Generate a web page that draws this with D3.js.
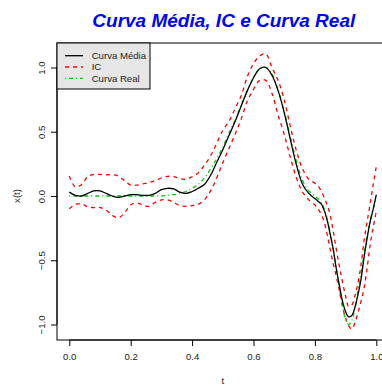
<!DOCTYPE html>
<html>
<head>
<meta charset="utf-8">
<script src="https://cdn.jsdelivr.net/npm/d3@7"></script>
<style>
  body { margin: 0; background: #fff; }
  svg { display: block; font-family: "Liberation Sans", Arial, sans-serif; }
</style>
</head>
<body>
<svg id="chart" width="382" height="385"></svg>
<script>
// grid of t values (denser where the curves move fast)
var tVals = [0, 0.02, 0.04, 0.06, 0.08, 0.10, 0.12, 0.14, 0.16, 0.18, 0.20,
  0.22, 0.24, 0.26, 0.28, 0.30, 0.32, 0.34, 0.36, 0.38, 0.40,
  0.42, 0.44, 0.46, 0.48, 0.50, 0.52, 0.54, 0.56, 0.58, 0.60,
  0.62, 0.64, 0.66, 0.68, 0.70, 0.72, 0.74, 0.76, 0.78, 0.80,
  0.81, 0.82, 0.83, 0.84, 0.85, 0.86, 0.87, 0.88, 0.89, 0.90,
  0.91, 0.92, 0.93, 0.94, 0.95, 0.96, 0.97, 0.98, 0.99, 1.00];

var curvaMedia = [0.03, 0.005, 0.0, 0.02, 0.04, 0.04, 0.02, 0.0, -0.01, 0.0, 0.01,
  0.01, 0.005, 0.005, 0.02, 0.05, 0.06, 0.055, 0.03, 0.02, 0.035,
  0.06, 0.09, 0.16, 0.26, 0.36, 0.47, 0.58, 0.70, 0.82, 0.92,
  0.99, 1.0, 0.94, 0.82, 0.65, 0.44, 0.24, 0.09, 0.02, -0.02,
  -0.04, -0.06, -0.11, -0.19, -0.30, -0.42, -0.57, -0.70, -0.82, -0.90,
  -0.94, -0.93, -0.87, -0.77, -0.65, -0.48, -0.33, -0.20, -0.10, 0.01];

var icSup = [0.155, 0.07, 0.09, 0.15, 0.168, 0.168, 0.165, 0.165, 0.155, 0.12, 0.085,
  0.085, 0.095, 0.105, 0.12, 0.14, 0.153, 0.15, 0.135, 0.13, 0.15,
  0.18, 0.24, 0.31, 0.41, 0.51, 0.58, 0.68, 0.78, 0.93, 1.03,
  1.09, 1.105, 1.0, 0.9, 0.75, 0.54, 0.35, 0.21, 0.13, 0.10,
  0.08, 0.04, -0.01, -0.07, -0.15, -0.28, -0.42, -0.55, -0.67, -0.78,
  -0.86, -0.85, -0.78, -0.68, -0.54, -0.35, -0.20, -0.06, 0.09, 0.23];

var icInf = [-0.1, -0.065, -0.06, -0.085, -0.09, -0.09, -0.11, -0.15, -0.17, -0.13, -0.07,
  -0.055, -0.07, -0.08, -0.05, -0.03, -0.03, -0.05, -0.075, -0.08, -0.075,
  -0.065, -0.03, 0.04, 0.14, 0.26, 0.37, 0.48, 0.60, 0.74, 0.83,
  0.9, 0.9, 0.8, 0.63, 0.48, 0.3, 0.14, 0.03, -0.03, -0.07,
  -0.10, -0.14, -0.20, -0.30, -0.42, -0.53, -0.63, -0.74, -0.86, -0.95,
  -1.01, -1.035, -0.99, -0.91, -0.82, -0.72, -0.56, -0.38, -0.24, -0.12];

var curvaReal = [0, 0, 0, 0, 0, 0, 0, 0, 0, 0, 0,
  0, 0, 0, 0, 0, 0.005, 0.01, 0.02, 0.035, 0.06,
  0.09, 0.14, 0.21, 0.29, 0.38, 0.49, 0.59, 0.71, 0.82, 0.92,
  0.99, 1.0, 0.95, 0.83, 0.66, 0.46, 0.27, 0.12, 0.04, 0.0,
  -0.02, -0.05, -0.10, -0.18, -0.29, -0.42, -0.57, -0.72, -0.86, -0.96,
  -1.0, -0.97, -0.88, -0.74, -0.60, -0.45, -0.31, -0.19, -0.10, -0.02];

var xTicks = [0, 0.2, 0.4, 0.6, 0.8, 1.0];
var yTicks = [-1, -0.5, 0, 0.5, 1];
var legendItems = ["Curva Média", "IC", "Curva Real"];

var svg = d3.select("#chart");
var box = { left: 57, right: 388.6, top: 43, bottom: 340 };

// R style: 4% padding round the data range
function pad(ext) {
  var r = ext[1] - ext[0];
  return [ext[0] - 0.04 * r, ext[1] + 0.04 * r];
}
var yExt = d3.extent(icSup.concat(icInf));
var x = d3.scaleLinear().domain(pad(d3.extent(tVals))).range([box.left, box.right]);
var y = d3.scaleLinear().domain(pad(yExt)).range([box.bottom, box.top]);

function series(vals) {
  return tVals.map(function(t, i) { return [t, vals[i]]; });
}
var line = d3.line()
  .x(function(d) { return x(d[0]); })
  .y(function(d) { return y(d[1]); })
  .curve(d3.curveCatmullRom.alpha(0.5));

// title
svg.append("text")
  .attr("x", (box.left + box.right) / 2 + 1)
  .attr("y", 26.5)
  .attr("text-anchor", "middle")
  .attr("font-size", 19)
  .attr("font-weight", "bold")
  .attr("font-style", "italic")
  .attr("fill", "#0000ff")
  .text("Curva Média, IC e Curva Real");

// curves
svg.append("path").datum(series(icSup))
  .attr("fill", "none").attr("stroke", "#ff0000").attr("stroke-width", 1.3)
  .attr("stroke-dasharray", "4,4").attr("d", line);
svg.append("path").datum(series(icInf))
  .attr("fill", "none").attr("stroke", "#ff0000").attr("stroke-width", 1.3)
  .attr("stroke-dasharray", "4,4").attr("d", line);
svg.append("path").datum(series(curvaReal))
  .attr("fill", "none").attr("stroke", "#00cd00").attr("stroke-width", 1.3)
  .attr("stroke-dasharray", "1,3,4,3").attr("d", line);
svg.append("path").datum(series(curvaMedia))
  .attr("fill", "none").attr("stroke", "#000").attr("stroke-width", 1.3)
  .attr("d", line);

// axes
var gx = svg.append("g")
  .attr("transform", "translate(0," + box.bottom + ")")
  .call(d3.axisBottom(x).tickValues(xTicks).tickSize(6).tickPadding(7)
    .tickFormat(d3.format(".1f")).tickSizeOuter(0));
gx.select(".domain").attr("d", "M" + x(0) + ",0H" + x(1));

var gy = svg.append("g")
  .attr("transform", "translate(" + box.left + ",0)")
  .call(d3.axisLeft(y).tickValues(yTicks).tickSize(6)
    .tickFormat(d3.format(".1f")).tickSizeOuter(0));
gy.select(".domain").attr("d", "M0," + y(-1) + "V" + y(1));
gy.selectAll(".tick text")
  .attr("transform", "rotate(-90)")
  .attr("x", 0).attr("y", -12.5).attr("dy", 0)
  .attr("text-anchor", "middle");

svg.selectAll(".tick text").attr("font-size", 9.6).attr("fill", "#222")
  .attr("font-family", "Liberation Sans, Arial, sans-serif");
svg.selectAll(".domain, .tick line").attr("stroke", "#000");

// plot frame
svg.append("rect")
  .attr("x", box.left).attr("y", box.top)
  .attr("width", box.right - box.left).attr("height", box.bottom - box.top)
  .attr("fill", "none").attr("stroke", "#000").attr("stroke-width", 1);

// axis titles
svg.append("text")
  .attr("x", (box.left + box.right) / 2).attr("y", 383.5)
  .attr("text-anchor", "middle").attr("font-size", 9.6).attr("fill", "#222")
  .text("t");
svg.append("text")
  .attr("transform", "translate(20," + y(0) + ") rotate(-90)")
  .attr("text-anchor", "middle").attr("font-size", 9.6).attr("fill", "#222")
  .text("x(t)");

// legend
var leg = svg.append("g");
leg.append("rect")
  .attr("x", box.left).attr("y", box.top)
  .attr("width", 93).attr("height", 46)
  .attr("fill", "#e6e6e6").attr("stroke", "#000");
var legStyles = [
  { stroke: "#000", dash: null },
  { stroke: "#ff0000", dash: "4,4" },
  { stroke: "#00cd00", dash: "1,3,4,3" }
];
legendItems.forEach(function(name, i) {
  var cy = 55.7 + i * 11.3;
  leg.append("line")
    .attr("x1", 65).attr("x2", 83).attr("y1", cy).attr("y2", cy)
    .attr("stroke", legStyles[i].stroke).attr("stroke-width", 1.3)
    .attr("stroke-dasharray", legStyles[i].dash);
  leg.append("text")
    .attr("x", 91.7).attr("y", cy + 3.4)
    .attr("font-size", 9.6).attr("fill", "#222")
    .text(name);
});
</script>
</body>
</html>
